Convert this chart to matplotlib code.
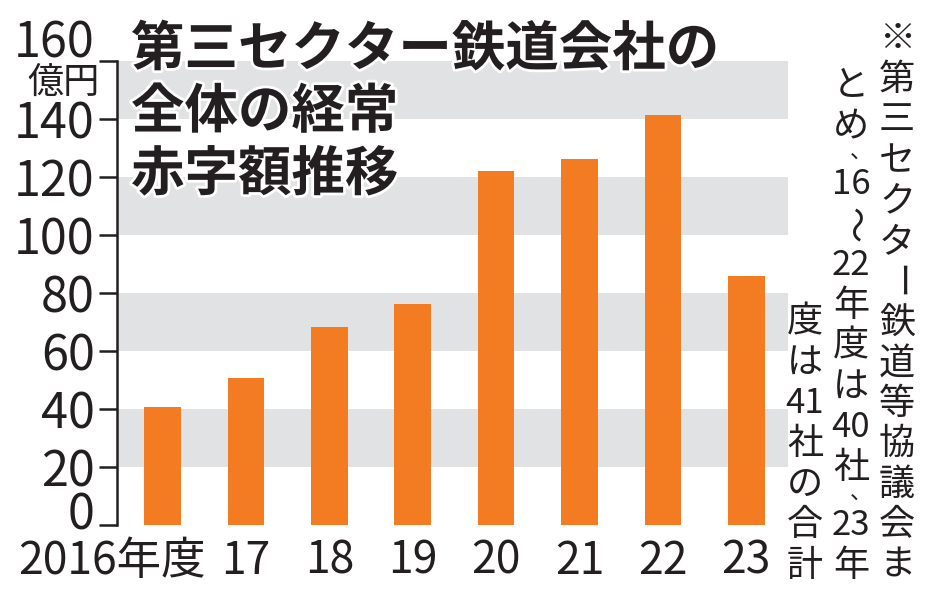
import matplotlib.pyplot as plt
import matplotlib.patheffects as pe
from matplotlib.transforms import ScaledTranslation

plt.rcParams['font.family'] = ['Noto Sans CJK JP', 'DejaVu Sans']

# データ（億円）
years = [2016, 2017, 2018, 2019, 2020, 2021, 2022, 2023]
year_labels = ['2016年度', '17', '18', '19', '20', '21', '22', '23']
deficit = [40.8, 50.6, 68.4, 76.2, 122.0, 126.2, 141.5, 85.9]
y_ticks = [0, 20, 40, 60, 80, 100, 120, 140, 160]
bands = [(20, 40), (60, 80), (100, 120), (140, 160)]

title_lines = ['第三セクター鉄道会社の', '全体の経常', '赤字額推移']
note_cols = [
    ['※', '第', '三', 'セ', 'ク', 'タ', 'ー', '鉄', '道', '等', '協', '議', '会', 'ま'],
    ['と', 'め', '、', '16', '～', '22', '年', '度', 'は', '40', '社', '、', '23', '年'],
    ['度', 'は', '41', '社', 'の', '合', '計'],
]

W, H = 934, 600
ORANGE = '#f37b21'
GREY = '#e1e2e4'
INK = '#231f20'


def fx(x):
    return x / W


def fy(y):
    return 1 - y / H


fig = plt.figure(figsize=(W / 100, H / 100), dpi=100)
ax = fig.add_axes([fx(117), fy(525), fx(788) - fx(117), fy(61) - fy(525)])

for lo, hi in bands:
    ax.axhspan(lo, hi, color=GREY, lw=0, zorder=0)

ax.bar(range(len(years)), deficit, width=0.44, color=ORANGE, zorder=2)

ax.set_xlim(-0.545, len(years) - 0.5)
ax.set_ylim(0, 160)

for s in ['top', 'right', 'bottom']:
    ax.spines[s].set_visible(False)
ax.spines['left'].set_linewidth(1.8)
ax.spines['left'].set_color(INK)

ax.set_yticks(y_ticks)
ax.set_yticklabels([str(v) for v in y_ticks])
ax.tick_params(axis='y', length=13, width=1.8, color=INK, pad=3,
               labelsize=35, labelcolor=INK)
ax.set_xticks(range(len(years)))
ax.set_xticklabels(year_labels)
ax.tick_params(axis='x', length=0, pad=9, labelsize=32, labelcolor=INK)

# 目盛りラベルの位置調整
ylabs = ax.get_yticklabels()
ylabs[0].set_transform(ylabs[0].get_transform() + ScaledTranslation(0, 0.15, fig.dpi_scale_trans))
ylabs[-1].set_transform(ylabs[-1].get_transform() + ScaledTranslation(0, 0.23, fig.dpi_scale_trans))
xl0 = ax.get_xticklabels()[0]
xl0.set_transform(xl0.get_transform() + ScaledTranslation(-0.50, 0, fig.dpi_scale_trans))

fig.text(fx(100), fy(83), '億円', ha='right', va='center', fontsize=26, color=INK)

# タイトル
for i, line in enumerate(title_lines):
    fig.text(fx(131), fy(50 + i * 62.5), line, ha='left', va='center',
             fontsize=38.5, fontweight='bold', color=INK,
             path_effects=[pe.withStroke(linewidth=4, foreground='white')])

# 縦書き注記
col_x = [897, 851, 805]
for cx, col in zip(col_x, note_cols):
    cur = 586
    for tok in reversed(col):
        h = 17 if tok == '、' else 40.5
        cy = cur - h / 2
        cur -= h
        kw = dict(ha='center', va='center', color=INK)
        if tok == '、':
            fig.text(fx(cx + 10), fy(cy - 3), tok, fontsize=16, **kw)
        elif tok in ('ー', '～'):
            fig.text(fx(cx), fy(cy), tok, rotation=-90, fontsize=26, **kw)
        elif tok.isdigit():
            fig.text(fx(cx), fy(cy), tok, fontsize=25, **kw)
        else:
            fig.text(fx(cx), fy(cy), tok, fontsize=26, **kw)

fig.savefig('out.png', dpi=100, facecolor='white')
